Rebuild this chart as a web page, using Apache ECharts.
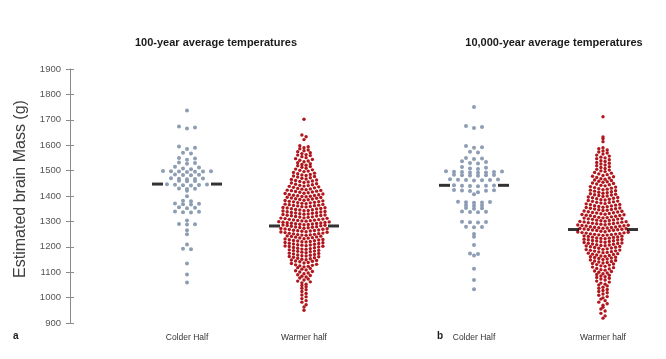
<!DOCTYPE html>
<html><head><meta charset="utf-8">
<script src="https://cdn.jsdelivr.net/npm/echarts@6/dist/echarts.min.js"></script>
<style>html,body{margin:0;padding:0;background:#fff}#c{width:666px;height:359px}</style>
</head><body><div id="c"></div>
<script>
// ---------------- data ----------------
const categories = ['Colder Half', 'Warmer half', 'Colder Half', 'Warmer half'];
const panelTitles = ['100-year average temperatures', '10,000-year average temperatures'];
const panelLetters = ['a', 'b'];
const yName = 'Estimated brain Mass (g)';
const yMin = 900, yMax = 1900, yStep = 100;

const colderA = [1737,
  1670,1666,1674, 1590,1585,1595, 1570,1567, 1548,1550,1543, 1530,1527,1532,
  1512,1508,1505,1515, 1497,1496,1495,1498,1494,1497,1496, 1484,1485,1482,1483,
  1468,1470,1466,1469,1467, 1459,1458,1460, 1443,1445,1441,1444,1442,1446,
  1429,1430,1428, 1421, 1399, 1381,1379, 1369,1370,1368,1367, 1354,1356,1352,
  1338,1336,1339,1335, 1304, 1289,1290,1288, 1265, 1249, 1209, 1190,1192,
  1134, 1091, 1059];

const warmerA = [1702,
  1640,1633,1622,
  1598,1594,1590,1586,1581,
  1578,1574,1570,1567,1563,1561,
  1559,1555,1551,1547,1544,1541,
  1538,1535,1531,1527,1524,1521,
  1519,1516,1513,1509,1506,1503,1501,
  1498,1496,1493,1490,1488,1485,1483,1481,
  1479,1477,1475,1472,1470,1467,1465,1463,1461,
  1459,1457,1455,1453,1451,1448,1446,1444,1442,1441,
  1439,1438,1436,1434,1432,1430,1428,1427,1425,1423,1422,1421,
  1419,1418,1416,1415,1413,1411,1410,1408,1406,1405,1403,1402,1401,
  1399,1398,1397,1395,1394,1392,1391,1389,1388,1386,1385,1383,1382,1381,
  1379,1378,1377,1375,1374,1373,1371,1370,1368,1367,1366,1364,1363,1362,1361,
  1359,1358,1357,1355,1354,1353,1351,1350,1349,1347,1346,1345,1343,1342,1341,
  1339,1338,1337,1335,1334,1333,1332,1330,1329,1328,1327,1325,1324,1323,1322,1321,
  1319,1318,1317,1316,1314,1313,1312,1311,1309,1308,1307,1306,1305,1304,1303,1302,1301,
  1299,1298,1297,1296,1295,1294,1293,1292,1291,1290,1289,1288,1287,1286,1285,1284,1283,1281,
  1279,1278,1277,1276,1275,1273,1272,1271,1270,1269,1268,1266,1265,1264,1263,1262,1261,
  1259,1258,1257,1256,1254,1253,1252,1251,1249,1248,1247,1246,1245,1243,1242,1241,
  1239,1238,1236,1235,1234,1232,1231,1229,1228,1227,1225,1224,1223,1221,1220,
  1219,1217,1216,1214,1213,1211,1210,1208,1207,1206,1204,1203,1202,1201,
  1199,1197,1196,1194,1193,1191,1190,1188,1186,1185,1183,1182,1181,
  1179,1177,1175,1174,1172,1170,1168,1167,1165,1164,1162,1161,
  1159,1157,1155,1153,1151,1149,1148,1146,1144,1143,1141,
  1138,1136,1134,1131,1129,1127,1125,1123,1121,
  1118,1115,1112,1109,1106,1103,1101,
  1097,1094,1090,1087,1084,1081,
  1077,1073,1069,1065,1062,
  1058,1053,1048,1043,
  1037,1031,1024,
  1016,1010,1003,
  996,988,982,
  972,963,
  950];

const colderB = [1750,
  1676,1672,1668, 1597,1592,1590, 1574,1571, 1550,1548,1546,1537,1534, 1530,1528,
  1514,1511,1508,1506, 1495,1494,1493,1496,1492,1494,1497,1493,
  1483,1482,1481,1484,1480,1482, 1465,1463,1462,1466,1461,1464,1463,
  1441,1440,1439,1442,1438,1440, 1423,1422,1420,1424,1421, 1415, 1407,
  1376,1375,1374,1377,1373, 1364,1362,1363, 1353,1352,1350, 1338,1337,1339,1336,
  1299,1297,1296,1298, 1279,1277,1278, 1250, 1240, 1207, 1174,1172, 1166,
  1114, 1069, 1033];

const warmerB = [1712,
  1632,1625,1614,
  1590,1586,1581,1577,1573,
  1569,1565,1561,1557,1553,1550,
  1547,1543,1539,1536,1532,1529,
  1526,1522,1519,1515,1512,1508,1505,
  1502,1499,1496,1493,1490,1487,1484,1481,
  1478,1476,1473,1471,1468,1466,1463,1461,1458,
  1456,1454,1451,1449,1447,1444,1442,1440,1437,1435,
  1433,1431,1429,1427,1425,1423,1421,1419,1417,1415,1413,1411,
  1409,1407,1405,1404,1402,1400,1398,1396,1394,1393,1391,1389,1387,
  1385,1384,1382,1380,1379,1377,1375,1374,1372,1370,1369,1367,1366,1364,
  1362,1361,1359,1358,1356,1355,1353,1352,1350,1349,1347,1346,1344,1343,1341,
  1340,1338,1337,1335,1334,1333,1331,1330,1328,1327,1326,1324,1323,1322,1320,
  1319,1318,1316,1315,1314,1313,1311,1310,1309,1308,1306,1305,1304,1303,1301,1300,
  1299,1298,1297,1295,1294,1293,1292,1291,1290,1289,1287,1286,1285,1284,1283,1282,1281,
  1279,1278,1277,1276,1275,1274,1273,1272,1271,1270,1269,1268,1267,1266,1265,1264,1263,1261,
  1259,1258,1257,1256,1255,1254,1252,1251,1250,1249,1248,1247,1246,1245,1243,1242,1241,
  1239,1238,1237,1235,1234,1233,1232,1230,1229,1228,1227,1225,1224,1223,1221,1220,
  1218,1217,1215,1214,1213,1211,1210,1208,1207,1205,1204,1203,1201,1200,1198,
  1197,1195,1194,1192,1190,1189,1187,1186,1184,1183,1181,1180,1178,1177,
  1175,1173,1171,1170,1168,1166,1164,1163,1161,1159,1158,1156,1154,
  1152,1150,1148,1146,1144,1142,1140,1138,1136,1134,1132,1130,
  1128,1125,1123,1120,1118,1115,1113,1110,1108,1105,1103,
  1100,1097,1094,1091,1088,1085,1082,1079,1076,
  1073,1069,1065,1061,1057,1053,1050,
  1046,1041,1037,1032,1028,1024,
  1019,1014,1009,1004,999,
  994,988,982,976,
  970,962,955,
  947,938,
  928,919];

const means = [1447, 1282, 1442, 1268];

// ---------------- layout / style ----------------
const GRID = {left: 70, top: 69, width: 596, height: 254};
const centers = [117, 234, 404, 533];          // group centre, px inside grid
const groups = [colderA, warmerA, colderB, warmerB];
const colors = ['#8d9db4', '#b0161c', '#8d9db4', '#b0161c'];
const dotSize = [4, 3.4, 4, 3.4];
const rowMode = ['gap', 'bin', 'gap', 'bin'];
const rowParam = [5.5, 13.8, 5.5, 13.8];       // value units
const slot = [8, 4.2, 8, 4.2];                 // px between dots in a row
const FONT = 'Liberation Sans, Arial, sans-serif';

// split sorted values into rows, then spread each row symmetrically (dot-plot layout)
function dotRows(values, mode, param, s) {
  const v = values.slice().sort((a, b) => a - b);
  const rows = [];
  if (mode === 'gap') {
    v.forEach((x, i) => { if (i === 0 || x - v[i - 1] > param) rows.push([]); rows[rows.length - 1].push(x); });
  } else {
    const m = new Map();
    v.forEach(x => { const k = Math.floor((x - yMin) / param); if (!m.has(k)) m.set(k, []); m.get(k).push(x); });
    m.forEach(r => rows.push(r));
  }
  const out = [];
  rows.forEach(r => {
    const n = r.length;
    const offs = [];
    for (let j = 0; j < n; j++) offs.push((j - (n - 1) / 2) * s);
    offs.sort((a, b) => Math.abs(a) - Math.abs(b) || b - a);
    r.forEach((val, k) => out.push([offs[k], val]));
  });
  return out;
}

const series = groups.map((vals, i) => ({
  type: 'scatter', silent: true, symbol: 'circle', symbolSize: dotSize[i],
  itemStyle: {color: colors[i], opacity: 1},
  data: dotRows(vals, rowMode[i], rowParam[i], slot[i]).map(p => [centers[i] + p[0], p[1]])
}));
series.push({
  type: 'scatter', silent: true, symbol: 'rect', symbolSize: [11, 3],
  itemStyle: {color: '#000'},
  data: means.flatMap((m, i) => [[centers[i] - 29.5, m], [centers[i] + 29.5, m]])
});

const option = {
  animation: false,
  backgroundColor: '#fff',
  title: [
    {text: panelTitles[0], left: 216, top: 37, textAlign: 'center', padding: 0,
     textStyle: {fontSize: 11, fontWeight: 'bold', color: '#1a1a1a', fontFamily: FONT}},
    {text: panelTitles[1], left: 554, top: 37, textAlign: 'center', padding: 0,
     textStyle: {fontSize: 11, fontWeight: 'bold', color: '#1a1a1a', fontFamily: FONT}},
    {text: panelLetters[0], left: 13, top: 331, padding: 0,
     textStyle: {fontSize: 10, fontWeight: 'bold', color: '#1a1a1a', fontFamily: FONT}},
    {text: panelLetters[1], left: 437, top: 331, padding: 0,
     textStyle: {fontSize: 10, fontWeight: 'bold', color: '#1a1a1a', fontFamily: FONT}}
  ],
  grid: {left: GRID.left, top: GRID.top, width: GRID.width, height: GRID.height, containLabel: false},
  xAxis: {
    type: 'value', min: 0, max: GRID.width,
    axisLine: {show: false}, axisTick: {show: false}, splitLine: {show: false},
    axisLabel: {
      customValues: centers,
      formatter: v => categories[centers.indexOf(v)] || '',
      fontSize: 8.5, color: '#333', margin: 10, fontFamily: FONT
    }
  },
  yAxis: [{
    type: 'value', min: yMin, max: yMax, interval: yStep, position: 'left',
    axisLine: {show: true, lineStyle: {color: '#8a8a8a', width: 1}},
    axisTick: {show: true, length: 4, lineStyle: {color: '#8a8a8a'}},
    axisLabel: {fontSize: 9.5, color: '#555', margin: 9, fontFamily: FONT, formatter: v => String(v)},
    splitLine: {show: false},
    name: yName, nameLocation: 'middle', nameGap: 38,
    nameTextStyle: {fontSize: 16, color: '#404040', fontFamily: FONT, padding: [0, 0, 0, 14]}
  }, {
    type: 'value', min: yMin, max: yMax, interval: yStep, position: 'right', offset: -GRID.width,
    axisLine: {show: false},
    axisTick: {show: true, length: 4, inside: false, lineStyle: {color: '#8a8a8a'}},
    axisLabel: {show: false}, splitLine: {show: false}
  }],
  series: series
};

const chart = echarts.init(document.getElementById('c'), null, {renderer: 'canvas'});
chart.setOption(option);
</script>
</body></html>
